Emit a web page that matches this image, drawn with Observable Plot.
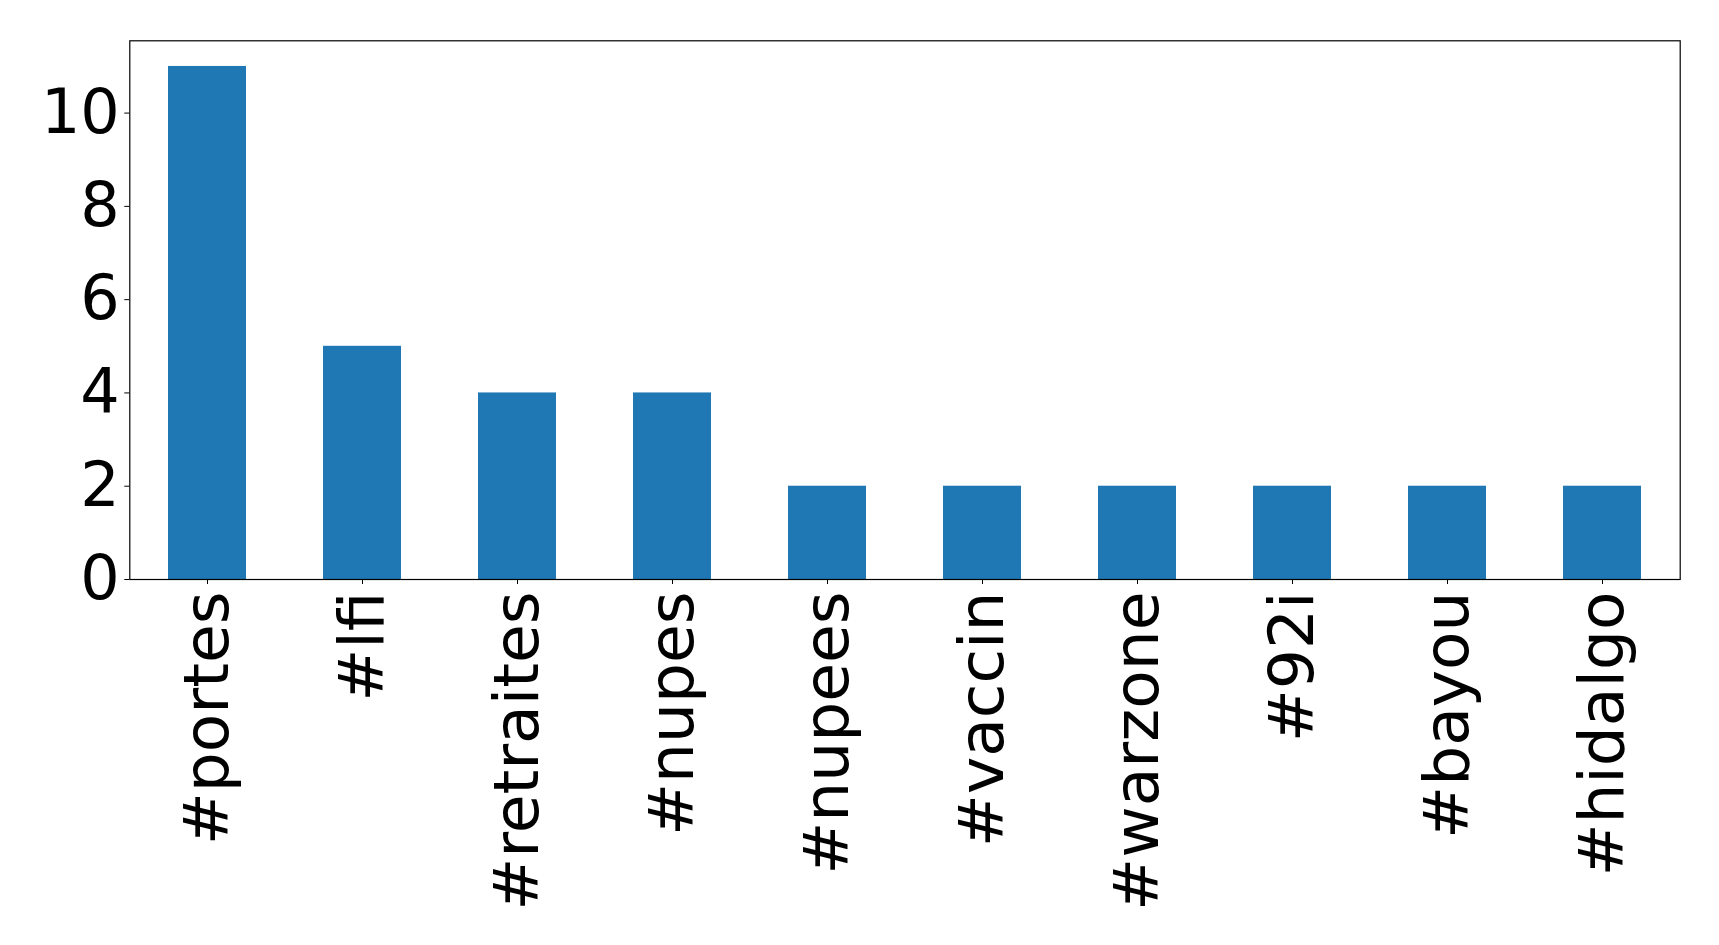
<!DOCTYPE html>
<html>
<head>
<meta charset="utf-8">
<script src="https://cdn.jsdelivr.net/npm/d3@7"></script>
<script src="https://cdn.jsdelivr.net/npm/@observablehq/plot@0.6"></script>
<style>
  html, body { margin: 0; padding: 0; background: #fff; }
  svg { display: block; }
</style>
</head>
<body>
<div id="chart"></div>
<script>
const hashtags = ["#portes", "#lfi", "#retraites", "#nupes", "#nupees", "#vaccin", "#warzone", "#92i", "#bayou", "#hidalgo"];
const counts = [11, 5, 4, 4, 2, 2, 2, 2, 2, 2];
const yTicks = [0, 2, 4, 6, 8, 10];

const data = hashtags.map((h, i) => ({tag: h, count: counts[i]}));

const chart = Plot.plot({
  width: 1719,
  height: 945,
  marginLeft: 129.3,
  marginRight: 39.3,
  marginTop: 40.3,
  marginBottom: 366,
  style: {fontFamily: "DejaVu Sans", fontSize: "62px", color: "#000", background: "#fff"},
  x: {domain: hashtags, paddingInner: 0.5, paddingOuter: 0.25, label: null},
  y: {domain: [0, 11.55], label: null},
  marks: [
    Plot.barY(data, {x: "tag", y: "count", fill: "#1f77b4"}),
    Plot.frame({stroke: "#000", strokeWidth: 1.2}),
    Plot.axisY({ticks: yTicks, tickSize: 5, tickPadding: 5, fontSize: 62, label: null, tickFormat: d => String(d)}),
    Plot.axisX({tickSize: 5, tickPadding: 7, tickRotate: -90, fontSize: 63, label: null})
  ]
});
document.getElementById("chart").appendChild(chart);
</script>
</body>
</html>
